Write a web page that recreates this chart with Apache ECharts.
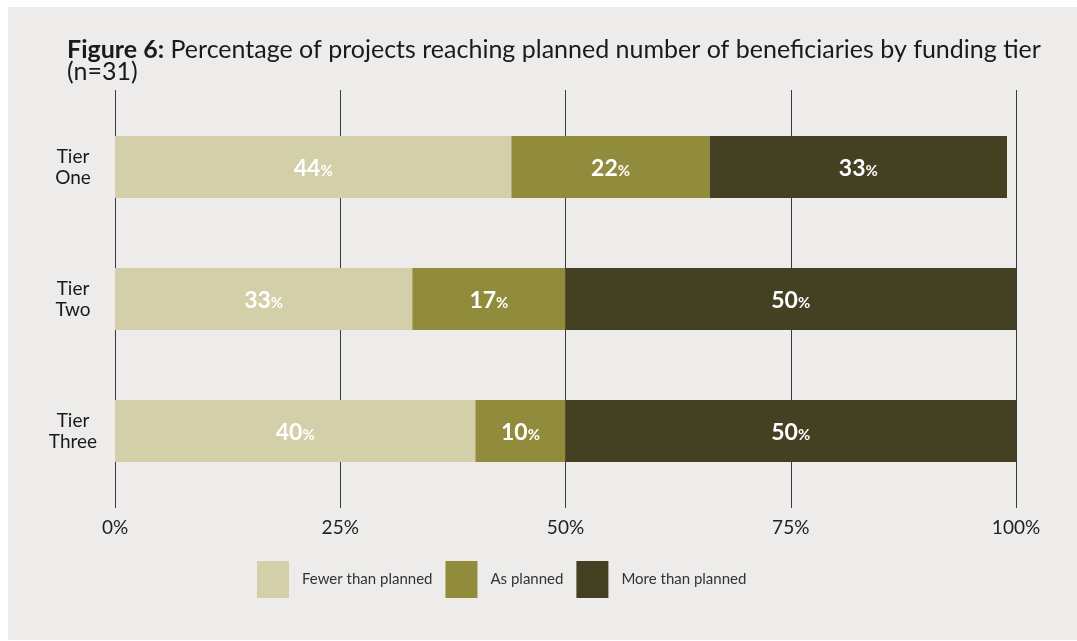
<!DOCTYPE html>
<html>
<head>
<meta charset="utf-8">
<script src="https://cdn.jsdelivr.net/npm/echarts@6/dist/echarts.min.js"></script>
<style>
html,body{margin:0;padding:0;background:#ffffff;}
#chart{width:1077px;height:641px;}
</style>
</head>
<body>
<div id="chart"></div>
<script>
var categories = ['Tier\nOne', 'Tier\nTwo', 'Tier\nThree'];
var seriesNames = ['Fewer than planned', 'As planned', 'More than planned'];
var fewerValues = [44, 33, 40];
var asPlannedValues = [22, 17, 10];
var moreValues = [33, 50, 50];
var xTicks = [0, 25, 50, 75, 100];
var colors = ['#d3cfa9', '#918c3b', '#444022'];

var FONT = 'Lato, "Noto Sans", sans-serif';
var labelCfg = {
  show: true,
  position: 'inside',
  offset: [0, 2],
  formatter: function (p) { return '{n|' + p.value + '}{p|%}'; },
  rich: {
    n: { fontFamily: FONT, fontWeight: 'bold', fontSize: 23, color: '#ffffff' },
    p: { fontFamily: FONT, fontWeight: 'bold', fontSize: 15, color: '#ffffff', padding: [4, 0, 0, 0] }
  }
};
function mkSeries(name, data, color) {
  return {
    name: name, type: 'bar', stack: 'total', data: data, barWidth: 62,
    itemStyle: { color: color }, label: labelCfg, silent: true
  };
}
var chart = echarts.init(document.getElementById('chart'), null, { renderer: 'canvas' });
chart.setOption({
  animation: false,
  backgroundColor: '#ffffff',
  color: colors,
  graphic: [{
    type: 'rect', z: -10, silent: true,
    shape: { x: 8, y: 7, width: 1069, height: 633 },
    style: { fill: '#edecea' }
  }],
  title: {
    left: 62, top: 34,
    text: '{b|Figure 6:} Percentage of projects reaching planned number of beneficiaries by funding tier\n(n=31)',
    textStyle: {
      fontFamily: FONT, fontSize: 25, fontWeight: 'normal', color: '#1a1a1a', lineHeight: 22,
      rich: {
        b: { fontFamily: FONT, fontSize: 25, fontWeight: 'bold', color: '#1a1a1a', lineHeight: 22 }
      }
    }
  },
  legend: {
    data: seriesNames, top: 556, left: 252,
    itemWidth: 32, itemHeight: 37, itemGap: 13,
    icon: 'rect',
    textStyle: { fontFamily: FONT, fontSize: 15, color: '#333333', padding: [0, 0, 0, 8] }
  },
  grid: { left: 115, right: 61, top: 101, bottom: 144, containLabel: false },
  xAxis: [{
    type: 'value', min: 0, max: 100, interval: 25, position: 'bottom',
    axisLine: { show: false },
    axisTick: { show: true, length: 11, lineStyle: { color: '#3a3a3a', width: 1 } },
    splitLine: { show: true, lineStyle: { color: '#3a3a3a', width: 1 } },
    axisLabel: { margin: 21, fontFamily: FONT, fontSize: 19, color: '#222222',
      formatter: function (v) { return v + '%'; } }
  }, {
    type: 'value', min: 0, max: 100, interval: 25, position: 'top',
    axisLine: { show: false },
    axisTick: { show: true, length: 11, lineStyle: { color: '#3a3a3a', width: 1 } },
    splitLine: { show: false },
    axisLabel: { show: false }
  }],
  yAxis: {
    type: 'category', data: categories, inverse: true,
    axisLine: { show: false }, axisTick: { show: false },
    axisLabel: { align: 'center', margin: 42, fontFamily: FONT, fontSize: 19, color: '#1a1a1a', lineHeight: 21 }
  },
  series: [
    mkSeries(seriesNames[0], fewerValues, colors[0]),
    mkSeries(seriesNames[1], asPlannedValues, colors[1]),
    mkSeries(seriesNames[2], moreValues, colors[2])
  ]
});
</script>
</body>
</html>
